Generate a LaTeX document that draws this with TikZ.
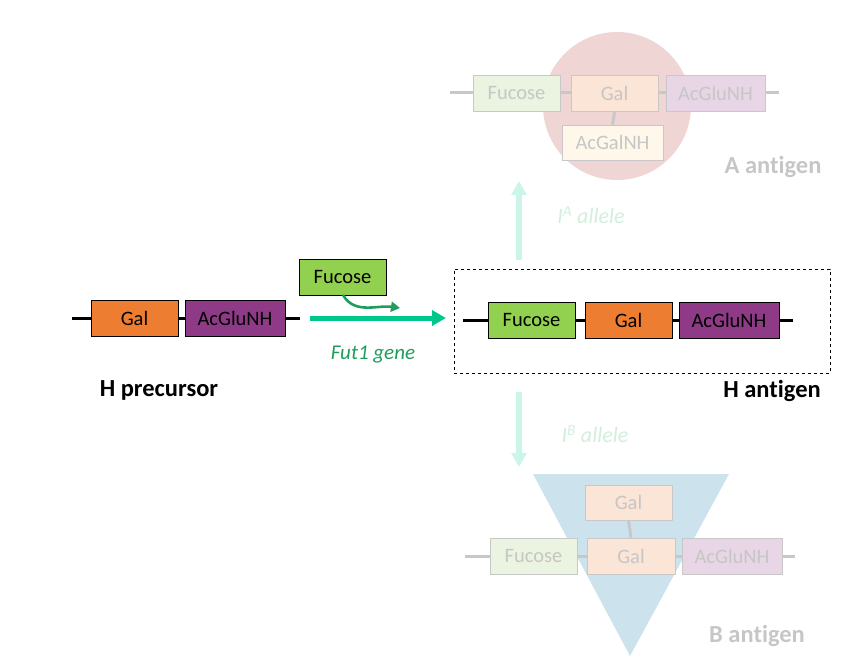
\documentclass[tikz,border=0pt]{standalone}
\usepackage{fontspec}
\setmainfont{Carlito}[Ligatures=NoCommon]
\usetikzlibrary{arrows.meta}
\definecolor{cgreen}{HTML}{92D050}
\definecolor{corange}{HTML}{ED7D31}
\definecolor{cpurple}{HTML}{8E3A86}
\definecolor{lgreen}{HTML}{EBF4E0}
\definecolor{lorange}{HTML}{FBE5D7}
\definecolor{lpurple}{HTML}{E8D6E7}
\definecolor{lyellow}{HTML}{FFF8EA}
\definecolor{lgray}{HTML}{C8C8C8}
\definecolor{tgray}{HTML}{C6C6C6}
\definecolor{pink}{HTML}{F0D5D5}
\definecolor{lblue}{HTML}{CCE3EE}
\definecolor{teal}{HTML}{00C88C}
\definecolor{dgreen}{HTML}{1E9E5C}
\definecolor{lteal}{HTML}{CCF5EA}
\definecolor{ltext}{HTML}{D2EEDD}
\tikzset{
  sugar/.style={draw=black, line width=0.6pt, minimum height=36pt, inner sep=0pt, font=\fontsize{20.5}{24}\selectfont},
  fsugar/.style={draw=lgray, line width=0.6pt, minimum height=36pt, inner sep=0pt, text=tgray, font=\fontsize{20.5}{24}\selectfont},
  chain/.style={line width=3pt, black},
  fchain/.style={line width=3pt, lgray},
  lbl/.style={font=\bfseries\fontsize{24.5}{28}\selectfont},
  flbl/.style={font=\bfseries\fontsize{24.5}{28}\selectfont, text=tgray},
  allele/.style={text=ltext, font=\itshape\fontsize{22}{26}\selectfont},
}
\begin{document}
\begin{tikzpicture}[x=1pt,y=-1pt]
\useasboundingbox (0,0) rectangle (843,660);
% ---------- A antigen (faded)
\node[circle, fill=pink, minimum size=148pt, inner sep=0pt] (circA) at (617,106) {};
\coordinate (aL) at (450,93);
\coordinate (aR) at (779,93);
\draw[fchain] (aL) -- (aR);
\node[fsugar, fill=lgreen, minimum width=87pt] (aFuc) at (516.5,93.5) {Fucose};
\node[fsugar, fill=lorange, minimum width=87pt] (aGal) at (614.5,93.5) {Gal};
\node[fsugar, fill=lpurple, minimum width=99pt] (aAcG) at (715.5,93.5) {AcGluNH};
\node[fsugar, fill=lyellow, minimum width=101pt, minimum height=35pt] (aAcGal) at (612.5,142.5) {AcGalNH};
\draw[fchain] (aGal.south) -- (aAcGal.north);
\node[flbl] (alab) at (773,167) {A antigen};
% ---------- B antigen (faded)
\coordinate (t1) at (533,474);
\coordinate (t2) at (729,474);
\coordinate (t3) at (630,656);
\fill[lblue] (t1) -- (t2) -- (t3) -- cycle;
\coordinate (bL) at (465,556);
\coordinate (bR) at (795,556);
\draw[fchain] (bL) -- (bR);
\node[fsugar, fill=lorange, minimum width=87pt, minimum height=35pt] (bGalTop) at (628.5,502.5) {Gal};
\node[fsugar, fill=lgreen, minimum width=87pt] (bFuc) at (533.5,556) {Fucose};
\node[fsugar, fill=lorange, minimum width=88pt] (bGal) at (631,556) {Gal};
\node[fsugar, fill=lpurple, minimum width=100pt] (bAcG) at (732,556) {AcGluNH};
\draw[fchain] (bGalTop.south) -- (bGal.north);
\node[flbl] (blab) at (757,636) {B antigen};
% ---------- allele arrows (faded)
\coordinate (upS) at (519,260);
\coordinate (upE) at (519,181);
\draw[lteal, line width=6pt, -{Triangle[length=14pt,width=15pt]}] (upS) -- (upE);
\node[allele] (IA) at (591,215) {I\textsuperscript{A} allele};
\coordinate (dnS) at (519,392);
\coordinate (dnE) at (519,467);
\draw[lteal, line width=6pt, -{Triangle[length=14pt,width=15pt]}] (dnS) -- (dnE);
\node[allele] (IB) at (595,434) {I\textsuperscript{B} allele};
% ---------- H precursor
\coordinate (pL) at (72,318);
\coordinate (pR) at (300,318);
\draw[chain] (pL) -- (pR);
\node[sugar, fill=corange, minimum width=87pt] (pGal) at (134.5,318) {Gal};
\node[sugar, fill=cpurple, minimum width=100pt] (pAcG) at (235,318) {AcGluNH};
\node[lbl] (plab) at (159,390) {H precursor};
% ---------- reaction
\node[sugar, fill=cgreen, minimum width=87pt] (fuc) at (342.5,277) {Fucose};
\coordinate (fA) at (343,295);
\coordinate (fB) at (400,308);
\draw[dgreen, line width=2.6pt, -{Triangle[length=9pt,width=10pt]}] (fA) to[out=-60,in=172] (fB);
\coordinate (rS) at (310,318);
\coordinate (rE) at (446,318);
\draw[teal, line width=5pt, -{Triangle[length=14pt,width=15pt]}] (rS) -- (rE);
\node[text=dgreen, font=\itshape\fontsize{21}{25}\selectfont] (fut) at (373,355) {Fut1 gene};
% ---------- H antigen
\node[draw=black, dashed, line width=0.8pt, minimum width=376pt, minimum height=104pt, inner sep=0pt] (hbox) at (642,321) {};
\coordinate (hL) at (463,320);
\coordinate (hR) at (793,320);
\draw[chain] (hL) -- (hR);
\node[sugar, fill=cgreen, minimum width=87pt] (hFuc) at (531.5,320) {Fucose};
\node[sugar, fill=corange, minimum width=87pt] (hGal) at (628.5,320) {Gal};
\node[sugar, fill=cpurple, minimum width=100pt] (hAcG) at (729,320) {AcGluNH};
\node[lbl] (hlab) at (772,391) {H antigen};
\end{tikzpicture}
\end{document}
